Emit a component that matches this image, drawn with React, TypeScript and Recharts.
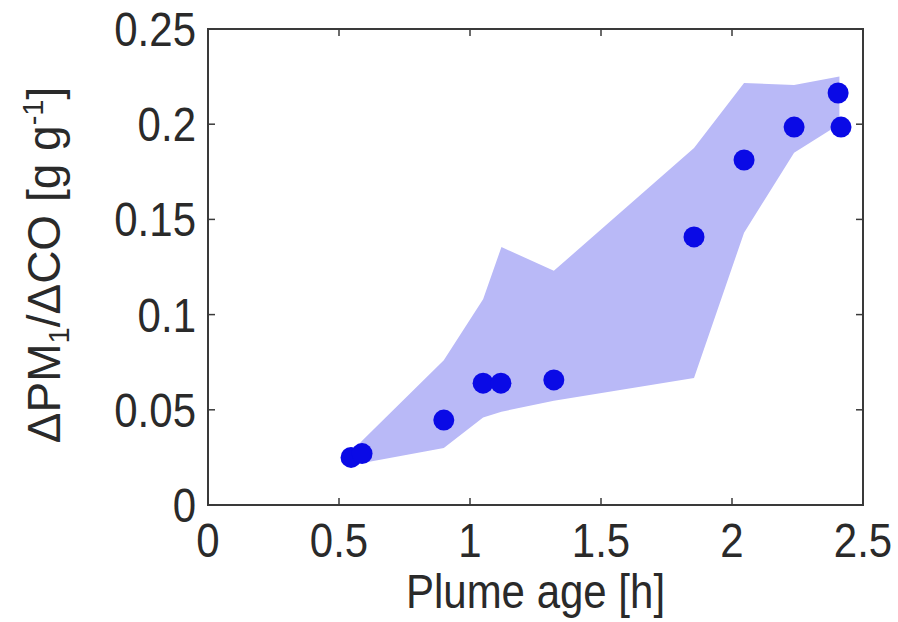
import { ComposedChart, Area, Scatter, XAxis, YAxis, ReferenceArea } from "recharts";

// envelope of the measurements (lower / upper edge of the shaded band)
const bandAge = [0.55, 0.59, 0.9, 1.05, 1.12, 1.32, 1.855, 2.046, 2.237, 2.41];
const bandLow = [0.021, 0.022, 0.03, 0.046, 0.049, 0.0548, 0.0667, 0.143, 0.185, 0.2];
const bandHigh = [0.028, 0.034, 0.076, 0.108, 0.1355, 0.123, 0.1875, 0.2216, 0.2206, 0.225];

// individual plume transects
const plumeAge = [0.546, 0.588, 0.9, 1.05, 1.118, 1.32, 1.855, 2.046, 2.237, 2.405, 2.416];
const pmRatio = [0.025, 0.027, 0.0446, 0.064, 0.064, 0.0657, 0.1408, 0.1812, 0.1985, 0.2164, 0.1985];

const xTicks = [0, 0.5, 1, 1.5, 2, 2.5];
const yTicks = [0, 0.05, 0.1, 0.15, 0.2, 0.25];

const band = bandAge.map((x, i) => ({ x, range: [bandLow[i], bandHigh[i]] }));
const points = plumeAge.map((x, i) => ({ x, y: pmRatio[i] }));

const FONT = "'Liberation Sans', Arial, sans-serif";
const INK = "#2a2a2a";
const FRAME = "#3a3a3a";
const TICK = 7;
// the source figure is slightly stretched vertically
const STRETCH = 1.15;

function Dot(props: any) {
  return <circle cx={props.cx} cy={props.cy} r={10.5} fill="#0a0ae6" />;
}

function NoDot() {
  return <g />;
}

function BottomTick(props: any) {
  const { x, y, payload } = props;
  return (
    <g>
      <line x1={x} y1={y} x2={x} y2={y - TICK} stroke={FRAME} strokeWidth={1.5} />
      <text
        transform={`translate(${x},${y + 52}) scale(1,${STRETCH})`}
        textAnchor="middle"
        fontSize={42}
        fontFamily={FONT}
        fill={INK}
      >
        {payload.value}
      </text>
    </g>
  );
}

function LeftTick(props: any) {
  const { x, y, payload } = props;
  return (
    <g>
      <line x1={x} y1={y} x2={x + TICK} y2={y} stroke={FRAME} strokeWidth={1.5} />
      <text
        transform={`translate(${x - 12},${y + 17}) scale(1,${STRETCH})`}
        textAnchor="end"
        fontSize={42}
        fontFamily={FONT}
        fill={INK}
      >
        {payload.value}
      </text>
    </g>
  );
}

function TopTick(props: any) {
  const { x, y } = props;
  return <line x1={x} y1={y} x2={x} y2={y + TICK} stroke={FRAME} strokeWidth={1.5} />;
}

function RightTick(props: any) {
  const { x, y } = props;
  return <line x1={x} y1={y} x2={x - TICK} y2={y} stroke={FRAME} strokeWidth={1.5} />;
}

function XLabel(props: any) {
  const vb = props.viewBox;
  return (
    <text
      transform={`translate(${vb.x + vb.width / 2},${vb.y + 103}) scale(1,${STRETCH})`}
      textAnchor="middle"
      fontSize={42}
      fontFamily={FONT}
      fill={INK}
    >
      Plume age [h]
    </text>
  );
}

function YLabel() {
  const cx = 60;
  const cy = 265;
  return (
    <text
      x={cx}
      y={cy}
      transform={`rotate(-90, ${cx}, ${cy})`}
      textAnchor="middle"
      fontSize={46}
      fontFamily={FONT}
      fill={INK}
    >
      ΔPM
      <tspan fontSize={29} dy={9}>1</tspan>
      <tspan dy={-9}>/ΔCO [g g</tspan>
      <tspan fontSize={29} dy={-17}>-1</tspan>
      <tspan dy={17}>]</tspan>
    </text>
  );
}

export default function App() {
  return (
    <div style={{ position: "absolute", left: 0, top: 0, background: "#fff" }}>
      <ComposedChart
        width={898}
        height={622}
        data={band}
        margin={{ top: 28, right: 34, bottom: 0, left: 0 }}
      >
        <XAxis
          xAxisId={0}
          dataKey="x"
          type="number"
          domain={[0, 2.5]}
          ticks={xTicks}
          allowDataOverflow
          height={117}
          tickSize={0}
          tickMargin={0}
          tick={BottomTick}
          axisLine={{ stroke: FRAME, strokeWidth: 2 }}
          tickLine={false}
          interval={0}
          label={{ content: (p: any) => <XLabel {...p} /> }}
        />
        <XAxis
          xAxisId="top"
          dataKey="x"
          orientation="top"
          type="number"
          domain={[0, 2.5]}
          ticks={xTicks}
          allowDataOverflow
          height={1}
          tickSize={0}
          tickMargin={0}
          tick={TopTick}
          axisLine={{ stroke: FRAME, strokeWidth: 2 }}
          tickLine={false}
          interval={0}
        />
        <YAxis
          yAxisId={0}
          dataKey="y"
          type="number"
          domain={[0, 0.25]}
          ticks={yTicks}
          allowDataOverflow
          width={208}
          tickSize={0}
          tickMargin={0}
          tick={LeftTick}
          axisLine={{ stroke: FRAME, strokeWidth: 2 }}
          tickLine={false}
          interval={0}
          label={{ content: () => <YLabel /> }}
        />
        <YAxis
          yAxisId="right"
          dataKey="y"
          orientation="right"
          type="number"
          domain={[0, 0.25]}
          ticks={yTicks}
          allowDataOverflow
          width={1}
          tickSize={0}
          tickMargin={0}
          tick={RightTick}
          axisLine={{ stroke: FRAME, strokeWidth: 2 }}
          tickLine={false}
          interval={0}
        />
        <ReferenceArea
          x1={0}
          x2={2.5}
          y1={0}
          y2={0.25}
          fill="none"
          stroke={FRAME}
          strokeWidth={2}
          ifOverflow="visible"
        />
        <Area
          dataKey="range"
          type="linear"
          stroke="none"
          fill="#b9b9f7"
          fillOpacity={1}
          dot={false}
          activeDot={false}
          isAnimationActive={false}
        />
        <Scatter data={points} dataKey="y" shape={Dot} isAnimationActive={false} />
        <Scatter
          data={points}
          dataKey="y"
          xAxisId="top"
          yAxisId="right"
          shape={NoDot}
          isAnimationActive={false}
        />
      </ComposedChart>
    </div>
  );
}
